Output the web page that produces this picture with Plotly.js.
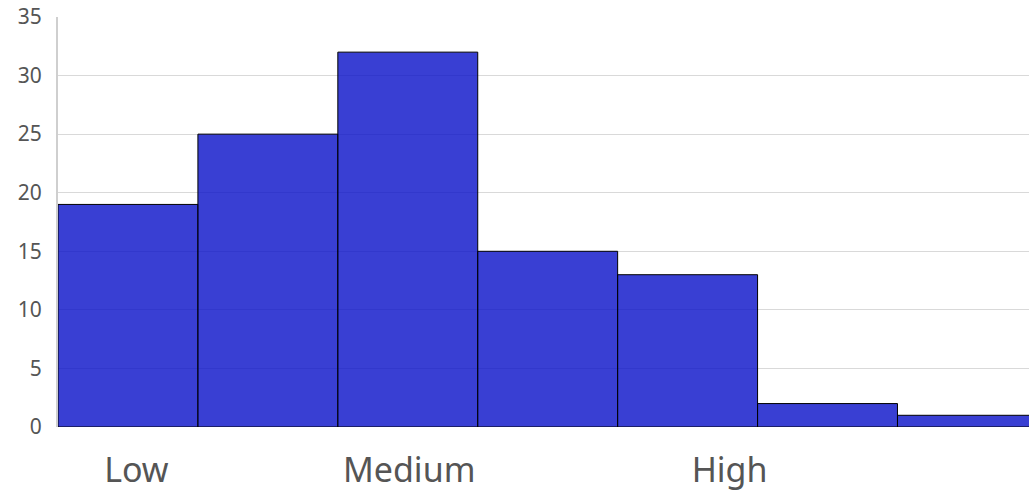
<!DOCTYPE html>
<html>
<head>
<meta charset="utf-8">
<script src="https://cdn.plot.ly/plotly-3.0.1.min.js"></script>
<style>html,body{margin:0;padding:0;background:#fff;}#chart{width:1029px;height:495px;}</style>
</head>
<body>
<div id="chart"></div>
<script>
// Data
var binIndex = [1, 2, 3, 4, 5, 6, 7];
var counts = [19, 25, 32, 15, 13, 2, 1];
var tickLabels = ["Low", "Medium", "High"];
var tickPositions = [0.56, 2.51, 4.8];

var binCenters = binIndex.map(function (i) { return i - 0.5; });

var trace = {
  type: "bar",
  x: binCenters,
  y: counts,
  width: 1,
  marker: {
    color: "rgba(8,15,200,0.8)",
    line: { color: "#000", width: 1 }
  },
  hoverinfo: "y"
};

var layout = {
  width: 1029,
  height: 495,
  margin: { l: 58, r: 0, t: 17, b: 68 },
  paper_bgcolor: "#fff",
  plot_bgcolor: "#fff",
  showlegend: false,
  bargap: 0,
  font: { family: "Noto Sans, Open Sans, sans-serif", color: "#555" },
  xaxis: {
    range: [0, 6.94],
    tickmode: "array",
    tickvals: tickPositions,
    ticktext: tickLabels,
    tickfont: { size: 34, color: "#555" },
    showgrid: false,
    zeroline: false,
    showline: false,
    ticks: "",
    ticklen: 0,
    ticklabelstandoff: 20
  },
  yaxis: {
    range: [0, 35],
    dtick: 5,
    tick0: 0,
    tickfont: { size: 21, color: "#555" },
    showgrid: true,
    gridcolor: "#d9d9d9",
    gridwidth: 1,
    zeroline: false,
    showline: true,
    linecolor: "#cfcfcf",
    linewidth: 2,
    ticks: "",
    ticklabelstandoff: 10
  }
};

Plotly.newPlot("chart", [trace], layout, { displayModeBar: false, staticPlot: true });
</script>
</body>
</html>
